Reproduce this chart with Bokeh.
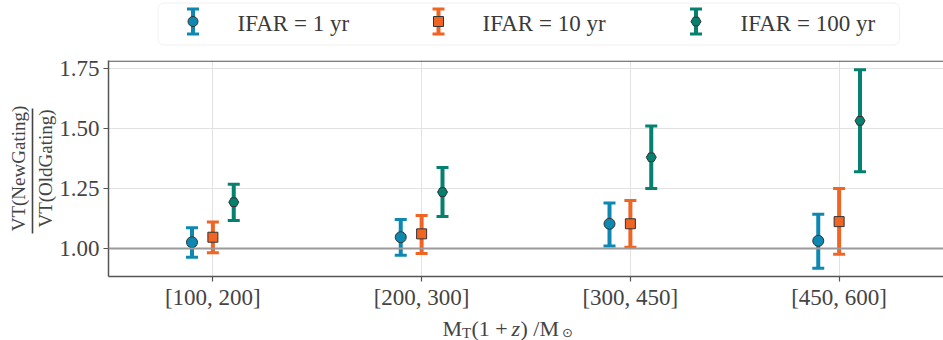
from bokeh.plotting import figure
from bokeh.models import (FactorRange, Range1d, ColumnDataSource, Whisker, TeeHead, Span,
                          BoxAnnotation, FixedTicker, NumeralTickFormatter, LinearAxis)
from bokeh.transform import dodge
from bokeh.layouts import column
from bokeh.core.properties import value
from bokeh.embed import file_html
from bokeh.resources import INLINE

# ---------------- data ----------------
bins = ["[100, 200]", "[200, 300]", "[300, 450]", "[450, 600]"]

vt_1 = [1.026, 1.047, 1.103, 1.032]
lo_1 = [0.964, 0.972, 1.010, 0.918]
hi_1 = [1.086, 1.121, 1.190, 1.143]

vt_10 = [1.047, 1.061, 1.103, 1.112]
lo_10 = [0.982, 0.979, 1.005, 0.976]
hi_10 = [1.110, 1.137, 1.200, 1.250]

vt_100 = [1.193, 1.235, 1.380, 1.532]
lo_100 = [1.117, 1.133, 1.250, 1.320]
hi_100 = [1.268, 1.337, 1.510, 1.745]

y_ticks = [1.00, 1.25, 1.50, 1.75]
series_labels = ["IFAR = 1 yr", "IFAR = 10 yr", "IFAR = 100 yr"]

# ---------------- style ----------------
FONT = "Liberation Serif"
C_BLUE = "#0E88B0"
C_ORANGE = "#F06424"
C_TEAL = "#06806F"
TXT = "#444444"
AX = "#555555"

W = 943
H = 340
FRAME_L = 108
LEG_H = 50
FRAME_T = 60
FRAME_B = 276
BORDER_B = 36
MAIN_H = FRAME_B + BORDER_B - LEG_H
XL_H = H - LEG_H - MAIN_H

# ---------------- legend strip (page coordinates) ----------------
leg = figure(width=W, height=LEG_H, x_range=Range1d(FRAME_L, W), y_range=Range1d(LEG_H, 0),
             output_backend="svg", toolbar_location=None, min_border=0,
             x_axis_location=None, y_axis_location=None)
leg.outline_line_color = None
leg.grid.visible = False
leg.add_layout(BoxAnnotation(left=157.5, right=899, top=2.5, bottom=44.5, level="underlay",
                             fill_color="white", fill_alpha=1.0,
                             line_color="#d0d0d0", line_width=1, border_radius=6))

legend_items = [
    (C_BLUE, "circle", 10, 192.5, 237.0),
    (C_ORANGE, "square", 10, 438.0, 482.0),
    (C_TEAL, "hex", 10, 695.5, 740.0),
]
for (col, mk, sz, bx, tx), lab in zip(legend_items, series_labels):
    leg.segment(x0=[bx], y0=[8.5], x1=[bx], y1=[33.5], line_color=col, line_width=4)
    leg.segment(x0=[bx - 6, bx - 6], y0=[8.5, 33.5], x1=[bx + 6, bx + 6], y1=[8.5, 33.5],
                line_color=col, line_width=3)
    leg.scatter(x=[bx], y=[21], marker=mk, size=sz, fill_color=col,
                line_color="#333333", line_width=1)
    leg.text(x=[tx], y=[23], text=[lab], text_font=value(FONT), text_font_size="23px",
             text_color="#3a3a3a", text_align="left", text_baseline="middle")

# ---------------- main figure ----------------
y0 = 1.0 - (FRAME_B - 248) / 240.0
y1 = 1.75 + (68 - FRAME_T) / 240.0
p = figure(width=W, height=MAIN_H, x_range=FactorRange(*bins, range_padding=0),
           y_range=Range1d(y0, y1), output_backend="svg", toolbar_location=None,
           min_border_left=FRAME_L, min_border_right=0,
           min_border_top=FRAME_T - LEG_H, min_border_bottom=BORDER_B)
p.background_fill_color = "white"
p.outline_line_color = None
p.add_layout(Span(location=y1 - 0.6 / 240.0, dimension="width", line_color=AX, line_width=1.3))

p.xgrid.grid_line_color = "#e2e2e2"
p.ygrid.grid_line_color = "#e2e2e2"

p.yaxis.ticker = FixedTicker(ticks=y_ticks)
p.yaxis.formatter = NumeralTickFormatter(format="0.00")
for ax in (p.xaxis[0], p.yaxis[0]):
    ax.axis_line_color = AX
    ax.axis_line_width = 1.5
    ax.major_tick_line_color = AX
    ax.major_tick_line_width = 1.2
    ax.major_tick_out = 5
    ax.major_tick_in = 0
    ax.minor_tick_line_color = None
    ax.major_label_text_font = FONT
    ax.major_label_text_font_size = "23px"
    ax.major_label_text_color = TXT
p.yaxis.major_label_standoff = 4
p.xaxis.major_label_standoff = 3

# denominator of the y label is the main axis label
p.yaxis.axis_label = "VT(OldGating)"
p.yaxis.axis_label_text_font = FONT
p.yaxis.axis_label_text_font_size = "19px"
p.yaxis.axis_label_text_font_style = "normal"
p.yaxis.axis_label_text_color = TXT
p.yaxis.axis_label_standoff = 0

p.add_layout(Span(location=1.0, dimension="width", line_color="#9a9a9a", line_width=2))

series = [
    (vt_1, lo_1, hi_1, -0.1, C_BLUE, "circle", 11),
    (vt_10, lo_10, hi_10, 0.0, C_ORANGE, "square", 10),
    (vt_100, lo_100, hi_100, 0.1, C_TEAL, "hex", 10),
]
for vals, lo, hi, off, col, mk, sz in series:
    src = ColumnDataSource(dict(cat=bins, y=vals, lo=lo, hi=hi))
    w = Whisker(source=src, base=dodge("cat", off, range=p.x_range), upper="hi", lower="lo",
                dimension="height", line_color=col, line_width=4,
                upper_head=TeeHead(size=12, line_color=col, line_width=3),
                lower_head=TeeHead(size=12, line_color=col, line_width=3))
    p.add_layout(w)
    p.scatter(x=dodge("cat", off, range=p.x_range), y="y", source=src, marker=mk, size=sz,
              fill_color=col, line_color="#333333", line_width=1)

# fraction bar + numerator: a tickless axis whose line is the bar, and whose label is the numerator
bar = LinearAxis(ticker=FixedTicker(ticks=[]),
                 bounds=(1.0 + (248 - 233) / 240.0, 1.0 + (248 - 108) / 240.0),
                 axis_line_color=TXT, axis_line_width=1.6,
                 major_tick_out=0, major_tick_in=0, minor_tick_out=0, minor_tick_in=0,
                 major_label_standoff=0,
                 axis_label="VT(NewGating)", axis_label_standoff=4,
                 axis_label_text_font=FONT, axis_label_text_font_size="19px",
                 axis_label_text_font_style="normal", axis_label_text_color=TXT)
p.add_layout(bar, "left")

# ---------------- x-axis label strip (page coordinates) ----------------
xl = figure(width=W, height=XL_H, x_range=Range1d(FRAME_L, W), y_range=Range1d(H, H - XL_H),
            output_backend="svg", toolbar_location=None, min_border=0,
            x_axis_location=None, y_axis_location=None)
xl.outline_line_color = None
xl.grid.visible = False
BL = 328
parts = [
    ("M", 442, BL, "22px", "normal"),
    ("T", 461.5, BL + 4, "15px", "normal"),
    ("(1 +", 471, BL, "22px", "normal"),
    ("z", 511, BL, "22px", "italic"),
    (") /M", 520, BL, "22px", "normal"),
]
for t, x, y, fs, st in parts:
    xl.text(x=[x], y=[y], text=[t], text_font=value(FONT), text_font_size=fs,
            text_font_style=st, text_color=TXT, text_align="left", text_baseline="alphabetic")
xl.text(x=[567], y=[332], text=["\u2299"], text_font=value("DejaVu Sans"),
        text_font_size="13px", text_color=TXT, text_align="center", text_baseline="middle")

layout = column(leg, p, xl, spacing=0)
open("out.html", "w").write(file_html(layout, INLINE))
